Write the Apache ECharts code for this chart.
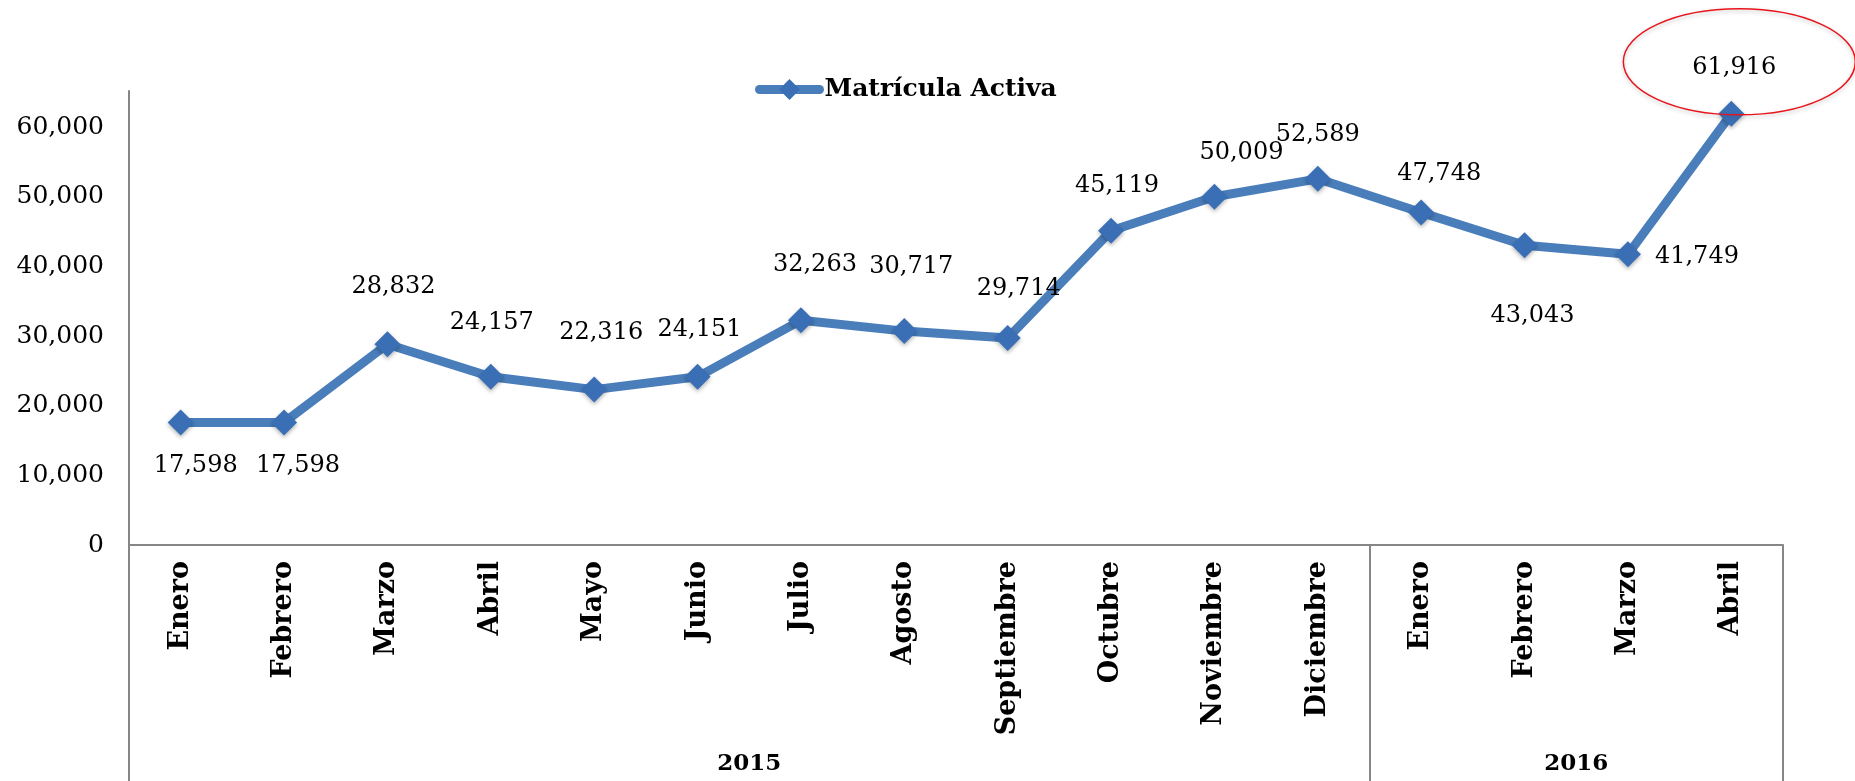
<!DOCTYPE html>
<html>
<head>
	<meta charset="utf-8">
	<title>Matrícula Activa</title>
	<style>
		html, body { margin: 0; padding: 0; background: #fff; }
		#box_1 { width: 1855px; height: 781px; }
	</style>
</head>
<body>
	<div id="box_1"></div>
<script src="https://cdn.jsdelivr.net/npm/echarts@6/dist/echarts.min.js"></script>
<script>
	// datos
	var meses = ['Enero','Febrero','Marzo','Abril','Mayo','Junio','Julio','Agosto','Septiembre','Octubre','Noviembre','Diciembre','Enero','Febrero','Marzo','Abril']
	var matricula = [17598,17598,28832,24157,22316,24151,32263,30717,29714,45119,50009,52589,47748,43043,41749,61916]
	var anios = ['2015','2016']
	var mesesPorAnio = [12,4]
	var yTicks = [0,10000,20000,30000,40000,50000,60000]

	// posicion de cada etiqueta respecto al punto (px)
	var etiquetaOffset = [[15,43],[14,43],[6,-57],[1,-54],[7,-57],[2,-47],[14,-56],[7,-64],[11,-49],[6,-45],[27,-44],[0,-44],[18,-39],[8,70],[69,2],[3,-46]]

	var serif = '"DejaVu Serif", Georgia, serif'
	var gris = '#868686'

	// limites de cada año sobre el eje (0..16) y centro de cada etiqueta
	var cortes = [0], centros = []
	for (var i = 0; i < mesesPorAnio.length; i++) {
		centros.push(cortes[i] + mesesPorAnio[i] / 2)
		cortes.push(cortes[i] + mesesPorAnio[i])
	}

	var puntos = []
	for (var i = 0; i < matricula.length; i++) {
		puntos.push({
			value: matricula[i],
			label: { position: 'inside', offset: etiquetaOffset[i] }
		})
	}

	var myChart = echarts.init(document.getElementById('box_1'))
	var option = {
		animation: false,
		backgroundColor: '#fff',
		legend: {
			left: 750,
			top: 72,
			itemWidth: 60,
			itemHeight: 26,
			itemGap: 2,
			lineStyle: { width: 9, cap: 'round', color: '#4a7ebb' },
			textStyle: { fontFamily: serif, fontSize: 25, fontWeight: 'bold', color: '#000' },
			data: ['Matrícula Activa']
		},
		grid: { left: 129, right: 72, top: 91, bottom: 236, containLabel: false },
		xAxis: [{
			type: 'category',
			data: meses,
			boundaryGap: true,
			axisLine: { show: true, lineStyle: { color: gris, width: 2 } },
			axisTick: { show: false },
			axisLabel: {
				interval: 0,
				rotate: 90,
				margin: 16,
				fontFamily: serif,
				fontSize: 27,
				fontWeight: 'bold',
				color: '#000'
			},
			splitLine: { show: false }
		}, {
			type: 'value',
			position: 'bottom',
			min: 0,
			max: meses.length,
			axisLine: { show: false },
			axisTick: {
				show: true,
				customValues: cortes,
				length: 240,
				lineStyle: { color: gris, width: 2 }
			},
			axisLabel: {
				customValues: centros,
				margin: 208,
				fontFamily: serif,
				fontSize: 23,
				fontWeight: 'bold',
				color: '#000',
				formatter: function(v) {
					var k = centros.indexOf(v)
					return k >= 0 ? anios[k] : ''
				}
			},
			splitLine: { show: false }
		}],
		yAxis: {
			type: 'value',
			min: 0,
			max: 65200,
			interval: 10000,
			axisLine: { show: true, lineStyle: { color: gris, width: 2 } },
			axisTick: { show: false },
			axisLabel: {
				customValues: yTicks,
				margin: 25,
				fontFamily: serif,
				fontSize: 25,
				color: '#000',
				formatter: function(v) { return v.toLocaleString('en-US') }
			},
			splitLine: { show: false }
		},
		series: [{
			name: 'Matrícula Activa',
			type: 'line',
			data: puntos,
			symbol: 'diamond',
			symbolSize: 26,
			showSymbol: true,
			itemStyle: {
				color: '#3a6fb6',
				shadowColor: 'rgba(0,0,0,0.3)',
				shadowBlur: 4,
				shadowOffsetY: 2
			},
			lineStyle: { color: '#4a7ebb', width: 9, cap: 'round', join: 'round' },
			label: {
				show: true,
				fontFamily: serif,
				fontSize: 24,
				color: '#000',
				formatter: function(p) { return p.value.toLocaleString('en-US') }
			}
		}]
	}
	myChart.setOption(option)

	// elipse roja alrededor del ultimo valor
	var ult = matricula.length - 1
	var p = myChart.convertToPixel({ seriesIndex: 0 }, [ult, matricula[ult]])
	myChart.setOption({
		graphic: [{
			type: 'ellipse',
			shape: { cx: p[0] + 8, cy: p[1] - 52, rx: 116, ry: 53 },
			style: { fill: 'none', stroke: '#e8141b', lineWidth: 1.5, shadowColor: 'rgba(0,0,0,0.25)', shadowBlur: 4, shadowOffsetY: 2 },
			z: 10
		}]
	})
</script>
</body>
</html>
